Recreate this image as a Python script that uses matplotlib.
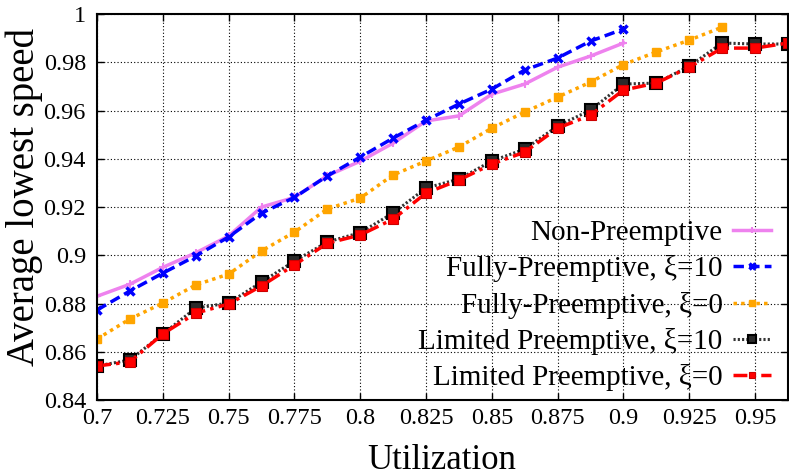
import numpy as np
import matplotlib.pyplot as plt
from matplotlib.ticker import FixedLocator, FuncFormatter

plt.rcParams['font.family'] = ['Liberation Serif', 'DejaVu Serif']

# utilization points (0.0125 apart)
util = [0.7, 0.7125, 0.725, 0.7375, 0.75, 0.7625, 0.775, 0.7875, 0.8, 0.8125,
        0.825, 0.8375, 0.85, 0.8625, 0.875, 0.8875, 0.9, 0.9125, 0.925, 0.9375,
        0.95, 0.9625]

non_pre = [0.883, 0.888, 0.895, 0.901, 0.908, 0.920, 0.924, 0.933, 0.939, 0.9465,
           0.9557, 0.9578, 0.9668, 0.971, 0.978, 0.9826, 0.988]
fully_10 = [0.8773, 0.8852, 0.8926, 0.8997, 0.9076, 0.9175, 0.924, 0.9329, 0.9407,
            0.9486, 0.956, 0.9627, 0.9689, 0.9768, 0.9818, 0.9888, 0.9938]
fully_0 = [0.8653, 0.8736, 0.8802, 0.8877, 0.8922, 0.9018, 0.9096, 0.9192, 0.9237,
           0.9333, 0.9391, 0.9449, 0.9527, 0.9594, 0.9656, 0.9718, 0.9791, 0.9843,
           0.9892, 0.9946]
limited_10 = [0.8541, 0.8566, 0.8674, 0.8781, 0.8802, 0.8889, 0.8976, 0.9055, 0.9094,
              0.9175, 0.9279, 0.9316, 0.9391, 0.944, 0.9536, 0.9602, 0.971, 0.9714,
              0.9784, 0.988, 0.9876, 0.9876]
limited_0 = [0.8541, 0.8558, 0.8674, 0.876, 0.8798, 0.8873, 0.896, 0.905, 0.9084,
             0.915, 0.9258, 0.9312, 0.9378, 0.9428, 0.9527, 0.9581, 0.9685, 0.9714,
             0.978, 0.9859, 0.9859, 0.988]

xticks = [0.7, 0.725, 0.75, 0.775, 0.8, 0.825, 0.85, 0.875, 0.9, 0.925, 0.95]
yticks = [0.84, 0.86, 0.88, 0.9, 0.92, 0.94, 0.96, 0.98, 1.0]

fig = plt.figure(figsize=(7.89, 4.70), dpi=100)
ax = fig.add_axes([0.123, 0.149, 0.8757, 0.821])

ax.plot(util[:len(non_pre)], non_pre, color='#ee82ee', lw=2.5, ls='-',
        marker='+', ms=6, mew=1.5, label='Non-Preemptive')
ax.plot(util[:len(fully_10)], fully_10, color='#0000ff', lw=2.5, ls=(0, (3, 1.5)),
        marker='x', ms=6, mew=2.5, label='Fully-Preemptive, ξ=10')
ax.plot(util[:len(fully_0)], fully_0, color='#ffa500', lw=2.5, ls=(0, (1, 1.2)),
        marker='s', ms=6, label='Fully-Preemptive, ξ=0')
ax.plot(util, limited_10, color='#333333', lw=2.2, ls=(0, (0.7, 0.7)),
        marker='s', ms=8, mfc='#2a2a2a', mec='black', mew=1.5,
        label='Limited Preemptive, ξ=10')
ax.plot(util, limited_0, color='#ff0000', lw=2.5, ls=(0, (4, 1.5, 1, 1.5)),
        marker='s', ms=6.5, mfc='#ff0000', mec='#cc0000', mew=0.8,
        label='Limited Preemptive, ξ=0')

ax.set_xlim(0.7, 0.9625)
ax.set_ylim(0.84, 1.0)
ax.xaxis.set_major_locator(FixedLocator(xticks))
ax.yaxis.set_major_locator(FixedLocator(yticks))
ax.xaxis.set_major_formatter(FuncFormatter(lambda v, p: f'{v:g}'))
ax.yaxis.set_major_formatter(FuncFormatter(lambda v, p: f'{v:g}'))
ax.tick_params(direction='in', top=True, right=True, length=5, width=1,
               labelsize=17.5)
ax.tick_params(axis='x', pad=6)
ax.tick_params(axis='y', pad=8)
ax.grid(True, color='black', ls=(0, (1, 2)), lw=0.8)
for s in ax.spines.values():
    s.set_linewidth(1.5)

ax.set_xlabel('Utilization', fontsize=25)
ax.xaxis.set_label_coords(0.4986, -0.114)
ax.set_ylabel('Average lowest speed', fontsize=28)
ax.yaxis.set_label_coords(-0.078, 0.526)

leg = ax.legend(loc='lower right', frameon=False, markerfirst=False,
                fontsize=21, handlelength=1.3, labelspacing=0.32,
                borderaxespad=0.0, handletextpad=0.35, markerscale=0.7,
                bbox_to_anchor=(0.992, -0.008))
for t in leg.get_texts():
    t.set_ha('right')

fig.savefig('out.png', dpi=100)
